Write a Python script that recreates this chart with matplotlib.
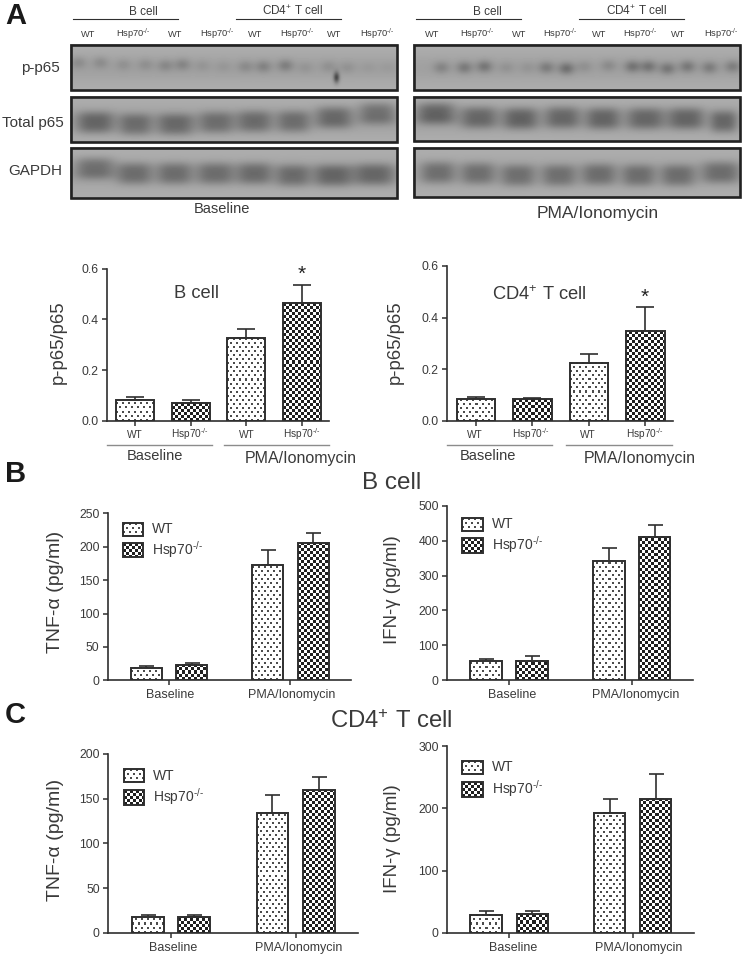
import numpy as np
import matplotlib
matplotlib.use("Agg")
import matplotlib.pyplot as plt
from matplotlib.patches import Rectangle

plt.rcParams["font.family"] = ["Liberation Sans", "DejaVu Sans"]
plt.rcParams["mathtext.fontset"] = "custom"
plt.rcParams["mathtext.rm"] = "Liberation Sans"
plt.rcParams["mathtext.it"] = "Liberation Sans"
plt.rcParams["mathtext.default"] = "regular"

W, H = 742, 958
DARK = "#2f2f2f"
TXT = "#3a3a3a"
KO = "Hsp70$^{\u2010/\u2010}$"

# =====================================================
# DATA (value, top of error bar)
# =====================================================

a_b_vals = [0.08, 0.07, 0.325, 0.463]
a_b_tops = [0.093, 0.08, 0.362, 0.537]
a_t_vals = [0.085, 0.083, 0.225, 0.348]
a_t_tops = [0.091, 0.089, 0.26, 0.44]
a_labels = ["WT", KO, "WT", KO]

b_tnf_vals = [19, 23, 172, 205]
b_tnf_tops = [21.5, 26, 195, 220.5]
b_ifn_vals = [56, 56, 343, 410]
b_ifn_tops = [62, 70, 380, 445]
c_tnf_vals = [18, 17.5, 133.6, 159.7]
c_tnf_tops = [20, 19.8, 153.7, 174.6]
c_ifn_vals = [29, 30.6, 193, 215]
c_ifn_tops = [35.4, 35.4, 214.7, 255.5]
groups = ["Baseline", "PMA/Ionomycin"]

# blot lanes: (left, right, y centre, darkness)
tp65_left = [(78, 112, 122, 58), (120, 150, 124, 52), (158, 192, 124, 55), (200, 232, 122, 50),
             (238, 270, 121, 52), (278, 308, 121, 50), (317, 350, 117, 55), (360, 393, 113, 50)]
gapdh_left = [(77, 112, 168, 50), (118, 150, 173, 50), (158, 190, 173, 50), (198, 232, 173, 50),
              (238, 270, 173, 52), (277, 308, 175, 52), (315, 350, 175, 58), (355, 392, 174, 56)]
pp65_left = [(78, 62, 22), (100, 62, 22), (123, 64, 16), (145, 64, 18), (165, 65, 25),
             (182, 64, 28), (202, 65, 12), (223, 66, 10), (245, 66, 22), (263, 66, 30),
             (285, 65, 34), (305, 67, 12), (328, 66, 16), (347, 67, 14), (368, 67, 7),
             (387, 67, 6)]
tp65_right = [(418, 453, 113, 62), (462, 495, 117, 56), (504, 536, 118, 60), (546, 578, 117, 56),
              (587, 618, 118, 58), (628, 662, 118, 56), (669, 702, 118, 58), (711, 735, 121, 56)]
gapdh_right = [(422, 453, 172, 48), (462, 493, 173, 48), (502, 533, 175, 48), (543, 574, 175, 48),
               (583, 614, 174, 50), (623, 653, 175, 50), (662, 693, 175, 50), (703, 737, 172, 50)]
pp65_right = [(441, 67, 28), (464, 67, 38), (484, 66, 42), (506, 67, 14), (527, 67, 12),
              (546, 67, 36), (566, 68, 48), (584, 66, 16), (608, 65, 22), (632, 66, 44),
              (648, 66, 44), (667, 68, 42), (687, 66, 40), (709, 67, 36), (732, 66, 34)]
spot_left = (336, 77, 70)

blots = [(70, 398, 44, 91), (70, 398, 96, 143), (70, 398, 147, 199),
         (413, 741, 44, 91), (413, 741, 96, 142), (413, 741, 147, 198)]

# =====================================================
# HELPERS
# =====================================================


def dotted(h, w):
    img = np.ones((h, w))
    yy, xx = np.mgrid[0:h, 0:w]
    shift = (yy // 4) % 2 * 3
    img[((xx + shift) % 6 < 2) & (yy % 4 < 2)] = 0.3
    return img


def checker(h, w):
    yy, xx = np.mgrid[0:h, 0:w]
    img = np.ones((h, w))
    img[((xx // 3) + (yy // 3)) % 2 == 0] = 0.13
    return img


def fill_pattern(ax, left, right, bottom, top, kind):
    (x0, y0), (x1, y1) = ax.transData.transform([(left, bottom), (right, top)])
    w, h = max(int(round(x1 - x0)), 1), max(int(round(y1 - y0)), 1)
    img = checker(h, w) if kind else dotted(h, w)
    ax.imshow(img, extent=(left, right, bottom, top), origin="lower", cmap="gray", vmin=0, vmax=1,
              aspect="auto", interpolation="nearest", zorder=2)


def bar_chart(px, xlim, ylim, yticks, fmt, centers, width, vals, tops, tick_pos, cap):
    left, right, top, bottom = px
    ax = fig.add_axes([left / W, 1 - bottom / H, (right - left) / W, (bottom - top) / H])
    ax.patch.set_alpha(0)
    ax.set_xlim(*xlim)
    ax.set_ylim(*ylim)
    vals = np.array(vals)
    tops = np.array(tops)
    ax.errorbar(centers, vals, yerr=[np.zeros(4), tops - vals], fmt="none", ecolor=DARK, elinewidth=1.2,
                capsize=cap, capthick=1.2, zorder=1)
    ax.bar(centers, vals, width=width, facecolor="none", edgecolor=DARK, linewidth=1.4, zorder=3)
    for i in range(4):
        fill_pattern(ax, centers[i] - width / 2, centers[i] + width / 2, 0, vals[i], i % 2)
    ax.set_xlim(*xlim)
    ax.set_ylim(*ylim)
    for s in ["top", "right"]:
        ax.spines[s].set_visible(False)
    for s in ["left", "bottom"]:
        ax.spines[s].set_linewidth(1.2)
        ax.spines[s].set_color(DARK)
    ax.set_yticks(yticks)
    ax.set_yticklabels([fmt % t for t in yticks], fontsize=8.8, color=TXT)
    ax.set_xticks(tick_pos)
    ax.set_xticklabels([])
    ax.tick_params(length=3.6, width=1.1, color=DARK, pad=2.5)
    return ax


def legend(x0, x1, rows, tx, ty):
    for i, (y0, y1) in enumerate(rows):
        w, h = int(x1 - x0), int(y1 - y0)
        img = checker(h, w) if i else dotted(h, w)
        over.imshow(img, extent=(x0, x1, y1, y0), cmap="gray", vmin=0, vmax=1, aspect="auto",
                    interpolation="nearest", zorder=3)
        over.add_patch(Rectangle((x0, y0), x1 - x0, y1 - y0, fill=False, ec=DARK, lw=1.4, zorder=4))
        over.text(tx, ty[i], ["WT", KO][i], fontsize=10, color=TXT, va="baseline", ha="left")


def put(x, y, s, size, **kw):
    kw.setdefault("color", TXT)
    over.text(x, y, s, fontsize=size, ha=kw.pop("ha", "center"), va=kw.pop("va", "center"), **kw)


# =====================================================
# FIGURE + BLOTS
# =====================================================

fig = plt.figure(figsize=(W / 100, H / 100), dpi=100)
over = fig.add_axes([0, 0, 1, 1])
over.set_axis_off()

canvas = np.ones((H, W))
yy, xx = np.mgrid[0:H, 0:W]

for x0, x1, y0, y1 in blots:
    sub_y = yy[y0:y1, x0:x1]
    canvas[y0:y1, x0:x1] = 0.68 - 0.05 * np.exp(-((sub_y - (y0 + y1) / 2) / 14.0) ** 2)

for lanes in [tp65_left, gapdh_left, tp65_right, gapdh_right]:
    for l, r, cy, dark in lanes:
        cx = (l + r) / 2
        half = (r - l) / 2
        blob = np.exp(-(np.abs(xx - cx) / (half * 1.12)) ** 3 - (np.abs(yy - cy) / 11.0) ** 3)
        canvas -= dark / 255.0 * 1.05 * blob * (yy > 93)

for cx, cy, dark in pp65_left + pp65_right:
    blob = np.exp(-((xx - cx) / 8.0) ** 2 - ((yy - cy) / 6.0) ** 2)
    canvas -= dark / 255.0 * 1.0 * blob * (yy < 92)
cx, cy, dark = spot_left
canvas -= dark / 255.0 * 1.3 * np.exp(-((xx - cx) / 3.0) ** 2 - ((yy - cy) / 5.5) ** 2) * (yy < 92)

canvas_out = np.ones((H, W))
for x0, x1, y0, y1 in blots:
    canvas_out[y0:y1, x0:x1] = canvas[y0:y1, x0:x1]

over.imshow(canvas_out, extent=(0, W, H, 0), cmap="gray", vmin=0, vmax=1, aspect="auto",
            interpolation="bilinear", zorder=0)
for x0, x1, y0, y1 in blots:
    over.add_patch(Rectangle((x0 + 1, y0 + 1), x1 - x0 - 2, y1 - y0 - 2, fill=False, ec="#222222", lw=1.9, zorder=1))

# blot labels
for lx0, lx1 in [(73, 178), (236, 341), (416, 521), (579, 684)]:
    over.plot([lx0, lx1], [19.3, 19.3], color=DARK, lw=0.8)
for x, s in [(143, "B cell"), (487, "B cell"), (293, "CD4$^{+}$ T cell"), (637, "CD4$^{+}$ T cell")]:
    put(x, 15, s, 8.5, va="baseline")
for x, s in zip([88, 133, 175, 217, 255, 297, 334, 377, 432, 477, 519, 560, 599, 640, 678, 721],
                ["WT", KO] * 8):
    put(x, 36.5, s, 6.7, va="baseline")
put(40, 68, "p-p65", 11)
put(32.5, 123, "Total p65", 11)
put(35, 171, "GAPDH", 11)
put(222, 209, "Baseline", 10.5)
put(598, 213, "PMA/Ionomycin", 12.5)

# panel letters
put(5, 16, "A", 21, weight="bold", ha="left", color="#1a1a1a")
put(5, 474, "B", 21, weight="bold", ha="left", color="#1a1a1a")
put(5, 715, "C", 21, weight="bold", ha="left", color="#1a1a1a")

# =====================================================
# PANEL A BARS
# =====================================================

x_a = np.arange(4)
ticks_a = [0, 0.2, 0.4, 0.6]
xlim_a = (-0.51, 3.49)

bar_chart((107, 329, 268.7, 420.7), xlim_a, (0, 0.6), ticks_a, "%.1f", x_a, 0.68, a_b_vals, a_b_tops, x_a, 6.8)
bar_chart((447, 673, 266, 420.7), xlim_a, (0, 0.6), ticks_a, "%.1f", x_a, 0.68, a_t_vals, a_t_tops, x_a, 6.8)

for x, s in zip([135, 190, 247, 302], a_labels):
    put(x, 438, s, 7.3, va="baseline")
for x, s in zip([475, 531, 588, 645], a_labels):
    put(x, 438, s, 7.3, va="baseline")

put(197, 293, "B cell", 13.2)
put(539, 295, "CD4$^{+}$ T cell", 13.2)
put(301.7, 274, "*", 15, color="#222222")
put(645, 297, "*", 15, color="#222222")
put(58, 342, "p-p65/p65", 13.3, rotation=90)
put(395, 342, "p-p65/p65", 13.3, rotation=90)
for lx0, lx1 in [(107, 212), (224, 329), (447, 552), (566, 672)]:
    over.plot([lx0, lx1], [445, 445], color="#8c8c8c", lw=1.0)
put(155, 456, "Baseline", 10.5)
put(301, 458, "PMA/Ionomycin", 11.5)
put(488, 456, "Baseline", 10.5)
put(640, 458, "PMA/Ionomycin", 11.5)

# =====================================================
# PANELS B / C BARS
# =====================================================

xlim_g = (-0.502, 1.498)
off, bw = 0.187, 0.255
x_g = np.array([-off, off, 1 - off, 1 + off])

bar_chart((108, 351, 513.3, 680.3), xlim_g, (0, 250), [0, 50, 100, 150, 200, 250], "%d", x_g, bw,
          b_tnf_vals, b_tnf_tops, [0, 1], 5.4)
bar_chart((447.3, 693, 505.7, 680.3), xlim_g, (0, 500), [0, 100, 200, 300, 400, 500], "%d", x_g, bw,
          b_ifn_vals, b_ifn_tops, [0, 1], 5.4)
bar_chart((108.3, 358, 754, 932.7), xlim_g, (0, 200), [0, 50, 100, 150, 200], "%d", x_g, bw,
          c_tnf_vals, c_tnf_tops, [0, 1], 5.4)
bar_chart((447.3, 694, 746.3, 932.7), xlim_g, (0, 300), [0, 100, 200, 300], "%d", x_g, bw,
          c_ifn_vals, c_ifn_tops, [0, 1], 5.4)

for x, y, s in [(170, 695, groups[0]), (292, 695, groups[1]), (511.7, 695, groups[0]), (636, 695, groups[1]),
                (173, 948, groups[0]), (299, 948, groups[1]), (512.7, 948, groups[0]), (638.7, 948, groups[1])]:
    put(x, y, s, 9)

legend(123, 143, [(523, 536), (543, 557)], 152, [533, 555])
legend(462, 483, [(518, 531), (538, 553)], 491.7, [528, 550])
legend(124, 144, [(769, 782), (790, 805)], 153.3, [780, 802])
legend(462, 483, [(761, 774), (782, 797)], 491.7, [771, 794])

put(56, 592, "TNF-\u03b1 (pg/ml)", 14, rotation=90)
put(392.7, 590, "IFN-\u03b3 (pg/ml)", 13.4, rotation=90)
put(55, 840, "TNF-\u03b1 (pg/ml)", 14, rotation=90)
put(392.7, 839, "IFN-\u03b3 (pg/ml)", 13.4, rotation=90)
put(392, 483, "B cell", 17.5)
put(391, 722, "CD4$^{+}$ T cell", 17.2)

over.set_xlim(0, W)
over.set_ylim(H, 0)
fig.savefig("out.png", dpi=100)
